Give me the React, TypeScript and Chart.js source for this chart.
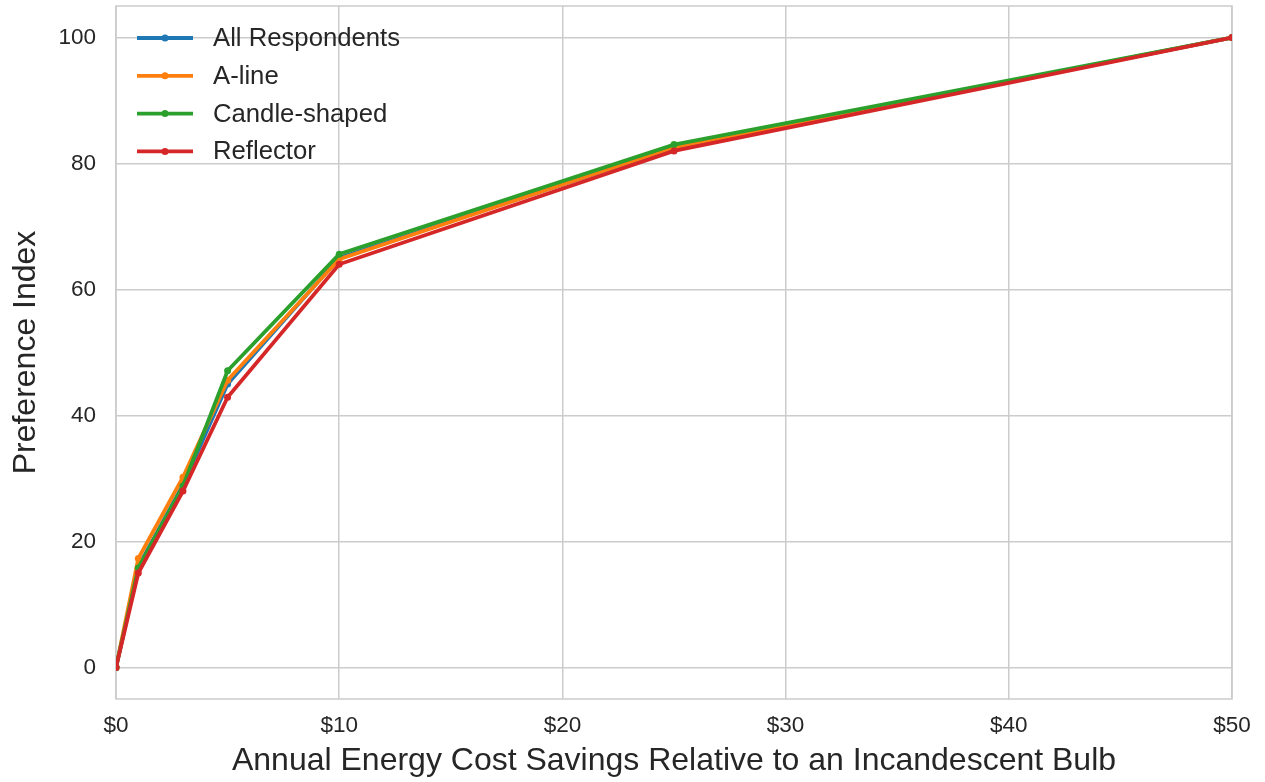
import React, { useEffect, useRef } from "react";
import { Chart, registerables } from "chart.js";

Chart.register(...registerables);

const savings = [0, 1, 3, 5, 10, 25, 50];
const allRespondents = [0, 16, 29, 45, 65, 82.5, 100];
const aLine = [0, 17.3, 30.2, 45.6, 64.8, 82.6, 100];
const candleShaped = [0, 15.8, 28.8, 47.1, 65.6, 83, 100];
const reflector = [0, 15, 28, 42.9, 64, 82, 100];

const seriesNames = ["All Respondents", "A-line", "Candle-shaped", "Reflector"];
const seriesColors = ["#1f77b4", "#ff7f0e", "#2ca02c", "#d62728"];
const xTicks = [0, 10, 20, 30, 40, 50];
const yTicks = [0, 20, 40, 60, 80, 100];

const FONT = "'Liberation Sans', Arial, sans-serif";
const TEXT = "#262626";
const GRID = "#cccccc";

const framePlugin = {
  id: "frame",
  beforeDatasetsDraw(chart: any) {
    const { ctx, chartArea } = chart;
    ctx.save();
    ctx.strokeStyle = GRID;
    ctx.lineWidth = 1.5;
    ctx.strokeRect(chartArea.left, chartArea.top, chartArea.right - chartArea.left, chartArea.bottom - chartArea.top);
    ctx.restore();
  },
};

const legendPlugin = {
  id: "lineLegend",
  afterDatasetsDraw(chart: any) {
    const { ctx, chartArea } = chart;
    const ds = chart.data.datasets;
    ctx.save();
    ctx.font = `25.7px ${FONT}`;
    ctx.textBaseline = "middle";
    ctx.textAlign = "left";
    ds.forEach((d: any, i: number) => {
      const y = chartArea.top + 32 + i * 37.8;
      const x0 = chartArea.left + 21;
      const x1 = chartArea.left + 77;
      ctx.strokeStyle = d.borderColor;
      ctx.lineWidth = 3.8;
      ctx.lineCap = "butt";
      ctx.beginPath();
      ctx.moveTo(x0, y);
      ctx.lineTo(x1, y);
      ctx.stroke();
      ctx.fillStyle = d.borderColor;
      ctx.beginPath();
      ctx.arc((x0 + x1) / 2, y, 3.5, 0, Math.PI * 2);
      ctx.fill();
      ctx.fillStyle = TEXT;
      ctx.fillText(d.label, chartArea.left + 97, y + 1);
    });
    ctx.restore();
  },
};

export default function App() {
  const ref = useRef<HTMLCanvasElement | null>(null);
  useEffect(() => {
    if (!ref.current) return;
    const values = [allRespondents, aLine, candleShaped, reflector];
    const chart = new Chart(ref.current, {
      type: "line",
      data: {
        datasets: values.map((v, i) => ({
          label: seriesNames[i],
          data: savings.map((x, j) => ({ x, y: v[j] })),
          borderColor: seriesColors[i],
          backgroundColor: seriesColors[i],
          borderWidth: 3.8,
          pointRadius: 3.5,
          pointBorderWidth: 0,
          pointHoverRadius: 3.5,
          tension: 0,
          fill: false,
          order: values.length - i,
        })),
      },
      options: {
        responsive: false,
        animation: false,
        events: [],
        layout: { padding: { top: 6, right: 33, left: 0, bottom: 0 } },
        plugins: {
          legend: { display: false },
          tooltip: { enabled: false },
        },
        scales: {
          x: {
            type: "linear",
            min: 0,
            max: 50,
            afterBuildTicks: (s: any) => {
              s.ticks = xTicks.map((v) => ({ value: v }));
            },
            afterFit: (s: any) => {
              s.height = 83;
              s.paddingLeft = 0;
              s.paddingRight = 0;
            },
            grid: { color: GRID, lineWidth: 1.5, drawTicks: false },
            border: { display: false },
            ticks: {
              padding: 13,
              color: TEXT,
              font: { family: FONT, size: 22.5 },
              maxRotation: 0,
              callback: (v: any) => "$" + v,
            },
            title: {
              display: true,
              text: "Annual Energy Cost Savings Relative to an Incandescent Bulb",
              color: TEXT,
              font: { family: FONT, size: 32 },
              padding: { top: 0, bottom: 2 },
            },
          },
          y: {
            type: "linear",
            min: -5,
            max: 105,
            afterBuildTicks: (s: any) => {
              s.ticks = yTicks.map((v) => ({ value: v }));
            },
            afterFit: (s: any) => {
              s.width = 116;
              s.paddingTop = 0;
              s.paddingBottom = 0;
            },
            grid: { color: GRID, lineWidth: 1.5, drawTicks: false },
            border: { display: false },
            ticks: {
              padding: 20,
              color: TEXT,
              font: { family: FONT, size: 22.5 },
            },
            title: {
              display: true,
              text: "Preference Index",
              color: TEXT,
              font: { family: FONT, size: 32 },
              padding: { top: 7, bottom: 0 },
            },
          },
        },
      },
      plugins: [framePlugin, legendPlugin],
    });
    return () => chart.destroy();
  }, []);
  return (
    <div style={{ position: "fixed", left: 0, top: 0, width: 1265, height: 782, background: "#fff" }}>
      <canvas ref={ref} width={1265} height={782} style={{ display: "block" }} />
    </div>
  );
}
